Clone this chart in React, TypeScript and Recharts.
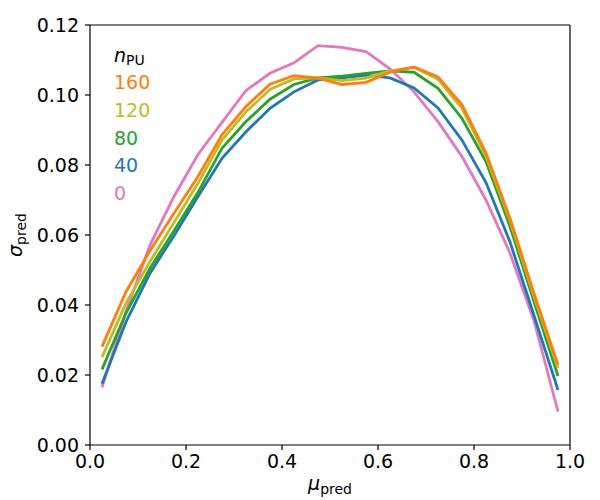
import React from 'react';
import { LineChart, Line, XAxis, YAxis, ReferenceLine, Customized } from 'recharts';

const muPred = [0.025, 0.075, 0.125, 0.175, 0.225, 0.275, 0.325, 0.375, 0.425, 0.475, 0.525, 0.575, 0.625, 0.675, 0.725, 0.775, 0.825, 0.875, 0.925, 0.975];

const pu0 = [0.0165, 0.0381, 0.0571, 0.0710, 0.0830, 0.0922, 0.1013, 0.1062, 0.1092, 0.1141, 0.1136, 0.1124, 0.1075, 0.1009, 0.0924, 0.0824, 0.0700, 0.0548, 0.0355, 0.0095];
const pu40 = [0.0175, 0.0352, 0.0491, 0.0598, 0.0710, 0.0819, 0.0895, 0.0962, 0.1009, 0.1043, 0.1049, 0.1057, 0.1049, 0.1020, 0.0963, 0.0871, 0.0750, 0.0580, 0.0370, 0.0157];
const pu80 = [0.0216, 0.0377, 0.0505, 0.0612, 0.0722, 0.0848, 0.0924, 0.0988, 0.1030, 0.1049, 0.1054, 0.1062, 0.1069, 0.1065, 0.1019, 0.0933, 0.0810, 0.0624, 0.0410, 0.0197];
const pu120 = [0.0251, 0.0405, 0.0524, 0.0636, 0.0748, 0.0871, 0.0952, 0.1016, 0.1046, 0.1049, 0.1041, 0.1048, 0.1069, 0.1079, 0.1045, 0.0962, 0.0825, 0.0640, 0.0424, 0.0219];
const pu160 = [0.0281, 0.0438, 0.0555, 0.0662, 0.0767, 0.0886, 0.0967, 0.1031, 0.1055, 0.1048, 0.1030, 0.1036, 0.1065, 0.1080, 0.1052, 0.0972, 0.0834, 0.0648, 0.0433, 0.0229];

const xTicks = [0, 0.2, 0.4, 0.6, 0.8, 1.0];
const yTicks = [0, 0.02, 0.04, 0.06, 0.08, 0.1, 0.12];

const seriesNames = ['0', '40', '80', '120', '160'];
const seriesValues = [pu0, pu40, pu80, pu120, pu160];
const seriesColors = ['#e377c2', '#1f77b4', '#2ca02c', '#bcbd22', '#ff7f0e'];

const data = muPred.map((x, i) => {
  const row: Record<string, number> = { x };
  seriesNames.forEach((n, k) => {
    row['pu' + n] = seriesValues[k][i];
  });
  return row;
});

const FONT = 'DejaVu Sans';
const tickStyle = { fontFamily: FONT, fontSize: 19, fill: '#000' };

const Legend = () => {
  const order = [4, 3, 2, 1, 0];
  return (
    <g fontFamily={FONT}>
      <text x={114} y={62} fontSize={19} fill="#000">
        <tspan fontStyle="italic">n</tspan>
        <tspan fontSize={14} dy={3}>PU</tspan>
      </text>
      {order.map((k, j) => (
        <text key={k} x={114} y={89 + j * 27.8} fontSize={19} fill={seriesColors[k]}>
          {seriesNames[k]}
        </text>
      ))}
    </g>
  );
};

const AxisLabels = () => (
  <g fontFamily={FONT} fill="#000">
    <text x={330} y={490} fontSize={19} textAnchor="middle">
      <tspan fontStyle="italic">μ</tspan>
      <tspan fontSize={14} dy={4}>pred</tspan>
    </text>
    <text x={0} y={0} fontSize={19} textAnchor="middle" transform="translate(22,235) rotate(-90)">
      <tspan fontStyle="italic">σ</tspan>
      <tspan fontSize={14} dy={4}>pred</tspan>
    </text>
  </g>
);

export default function App() {
  return (
    <div style={{ position: 'absolute', left: 0, top: 0, width: 600, height: 500, background: '#fff' }}>
      <LineChart width={600} height={500} data={data} margin={{ top: 25, right: 30, bottom: 0, left: 0 }}>
        <XAxis
          dataKey="x"
          type="number"
          domain={[0, 1]}
          ticks={xTicks}
          tickFormatter={(v: number) => v.toFixed(1)}
          height={55}
          tick={tickStyle}
          tickSize={5}
          tickMargin={5}
          axisLine={{ stroke: '#000', strokeWidth: 1.2 }}
          tickLine={{ stroke: '#000', strokeWidth: 1.2 }}
          interval={0}
        />
        <YAxis
          type="number"
          domain={[0, 0.12]}
          ticks={yTicks}
          tickFormatter={(v: number) => v.toFixed(2)}
          width={90}
          tick={tickStyle}
          tickSize={5}
          tickMargin={6}
          axisLine={{ stroke: '#000', strokeWidth: 1.2 }}
          tickLine={{ stroke: '#000', strokeWidth: 1.2 }}
          interval={0}
        />
        {seriesNames.map((n, k) => (
          <Line
            key={n}
            type="linear"
            dataKey={'pu' + n}
            stroke={seriesColors[k]}
            strokeWidth={2.8}
            dot={false}
            activeDot={false}
            isAnimationActive={false}
          />
        ))}
        <ReferenceLine y={0.12} stroke="#000" strokeWidth={1.2} ifOverflow="visible" />
        <ReferenceLine x={1} stroke="#000" strokeWidth={1.2} ifOverflow="visible" />
        <Customized component={Legend} />
        <Customized component={AxisLabels} />
      </LineChart>
    </div>
  );
}
